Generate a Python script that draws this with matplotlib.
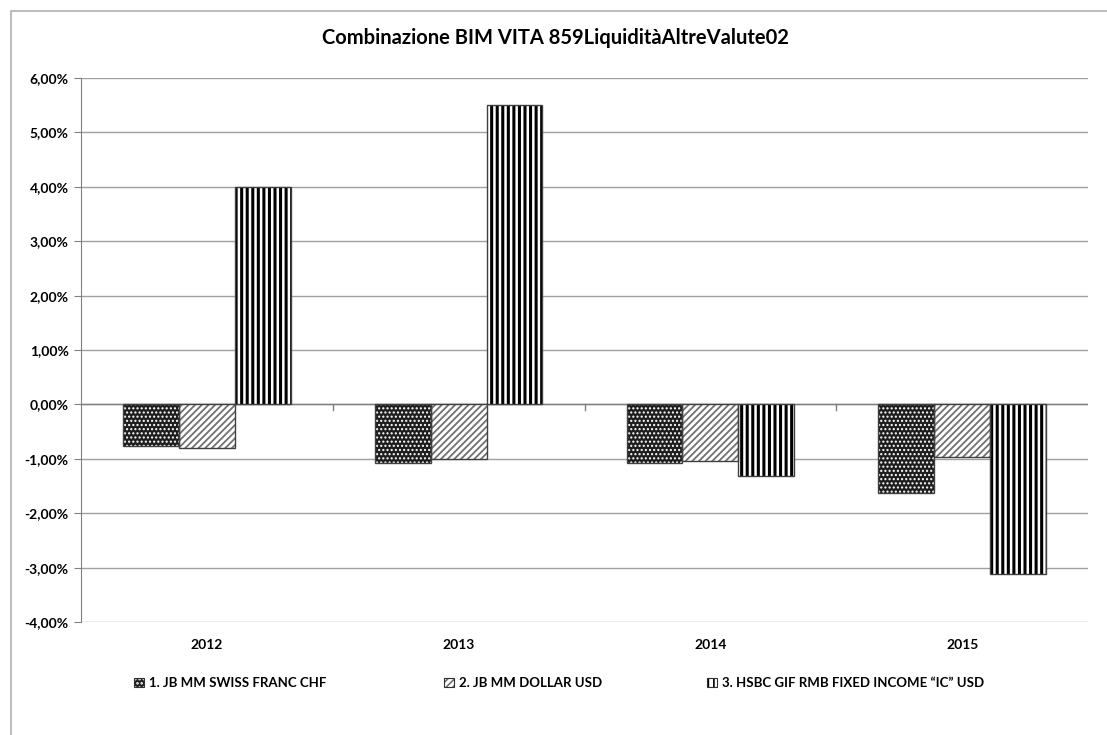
import numpy as np
import matplotlib.pyplot as plt
from matplotlib.patches import Rectangle
from matplotlib.ticker import FuncFormatter

plt.rcParams['font.family'] = ['Lato', 'DejaVu Sans']
plt.rcParams['font.weight'] = 'bold'

title = "Combinazione BIM VITA 859LiquiditàAltreValute02"
years = ["2012", "2013", "2014", "2015"]
series_names = ["1. JB MM SWISS FRANC CHF",
                "2. JB MM DOLLAR USD",
                "3. HSBC GIF RMB FIXED INCOME \u201cIC\u201d USD"]
jb_chf = [-0.77, -1.08, -1.08, -1.63]
jb_usd = [-0.81, -1.01, -1.04, -0.97]
hsbc_rmb = [4.00, 5.51, -1.32, -3.12]
values = [jb_chf, jb_usd, hsbc_rmb]

fig = plt.figure(figsize=(11.07, 7.35), dpi=100)
ax = fig.add_axes([81 / 1107, 1 - 622 / 735, 1007 / 1107, 544 / 735])

# cornice del grafico
fig.patches.append(Rectangle((11 / 1107, -0.1), 1.2, 1 - 11 / 735 + 0.1,
                             transform=fig.transFigure, fill=False,
                             edgecolor='#b0b0b0', linewidth=1.2, zorder=0))

x = np.arange(len(years))
w = 0.222
offsets = [-w, 0, w]

# stili dei pattern
styles = [
    dict(face='#1e1e1e', hcolor='white', hatch='....', hlw=1.0),
    dict(face='white', hcolor='#707070', hatch='/////', hlw=1.3),
    dict(face='white', hcolor='black', hatch='|||', hlw=2.2),
]

handles = []
for vals, off, st, name in zip(values, offsets, styles, series_names):
    plt.rcParams['hatch.linewidth'] = st['hlw']
    ax.bar(x + off, vals, w, color=st['face'], edgecolor=st['hcolor'],
           hatch=st['hatch'], linewidth=0, zorder=2)
    ax.bar(x + off, vals, w, facecolor='none', edgecolor='#404040',
           linewidth=1.0, zorder=3)
    plt.rcParams['hatch.linewidth'] = min(st['hlw'], 1.2)
    h = Rectangle((0, 0), 1, 1, facecolor=st['face'], edgecolor=st['hcolor'],
                  hatch=st['hatch'], linewidth=0)
    bordo = Rectangle((0, 0), 1, 1, facecolor='none', edgecolor='#303030',
                      linewidth=0.8)
    handles.append((h, bordo))

ax.set_xlim(-0.5, len(years) - 0.5)
ax.set_ylim(-4, 6)
ax.set_yticks(np.arange(-4, 7, 1))
ax.yaxis.set_major_formatter(FuncFormatter(lambda v, p: f"{v:.2f}%".replace('.', ',')))
ax.grid(axis='y', color='#a0a0a0', linewidth=1.0, zorder=0)
ax.set_axisbelow(True)

for s in ['top', 'right', 'bottom']:
    ax.spines[s].set_visible(False)
ax.spines['left'].set_color('#808080')
ax.tick_params(axis='y', length=5, color='#808080', labelsize=10, pad=4)

# asse categorie sulla linea dello zero
ax.axhline(0, color='#808080', linewidth=1.0, zorder=1)
for b in np.arange(0.5, len(years) - 0.5, 1):
    ax.plot([b, b], [0, -0.1], color='#808080', linewidth=1.0, zorder=1)
ax.set_xticks(x)
ax.set_xticklabels(years)
ax.tick_params(axis='x', length=0, labelsize=10, pad=12)

fig.text(0.5 + 2 / 1107, 1 - 38 / 735, title, ha='center', va='center',
         fontsize=14.5, fontweight='bold')

# legenda: una voce per volta
leg_x = [134, 444, 707]
for h, name, lx in zip(handles, series_names, leg_x):
    leg = fig.legend([h], [name], loc='center left',
                     bbox_to_anchor=(lx / 1107, 1 - 683 / 735),
                     frameon=False, fontsize=9.5, handlelength=0.75,
                     handleheight=0.75, handletextpad=0.35, borderpad=0,
                     borderaxespad=0)

fig.savefig('out.png', dpi=100)
